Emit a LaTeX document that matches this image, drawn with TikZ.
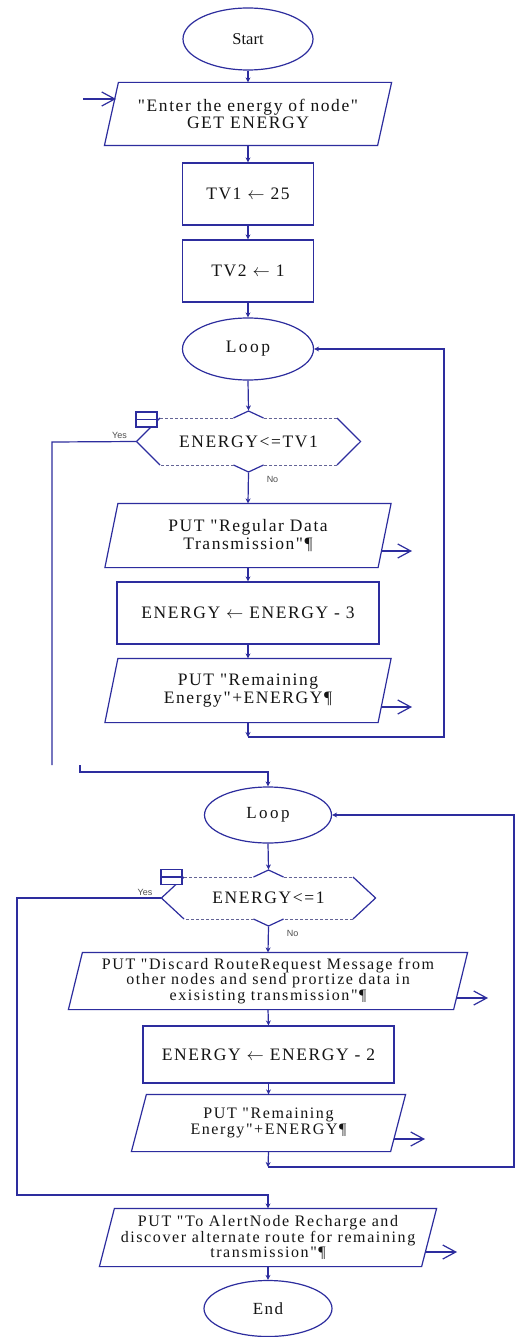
\documentclass[tikz,border=0pt]{standalone}
\usepackage{fontspec}
\setmainfont{Liberation Serif}
\newfontfamily\spaced[LetterSpace=9]{Liberation Serif}
\newfontfamily\spacedb[LetterSpace=10]{Liberation Serif}
\newfontfamily\wide[LetterSpace=14]{Liberation Serif}
\newfontfamily\lab{Liberation Sans}
\usetikzlibrary{shapes.geometric,arrows.meta,calc}
\definecolor{ln}{RGB}{45,45,158}
\definecolor{tx}{RGB}{20,20,20}
\definecolor{dsh}{RGB}{100,100,150}
\newcommand\mypara[2]{\draw[shp] ([xshift=#2pt]#1.north west) -- ([xshift=#2pt]#1.north east) -- ([xshift=-#2pt]#1.south east) -- ([xshift=-#2pt]#1.south west) -- cycle;}
\newcommand\myhex[4]{%
 \draw[shp] (#1.west) -- ($(#1.center)+(-#2+#4,-#3)$);
 \draw[dashedge] ($(#1.center)+(-#2+#4,-#3)$) -- ($(#1.center)+(-15,-#3)$);
 \draw[shp] ($(#1.center)+(-15,-#3)$) -- ($(#1.center)+(0,-#3-7)$) -- ($(#1.center)+(15,-#3)$);
 \draw[dashedge] ($(#1.center)+(15,-#3)$) -- ($(#1.center)+(#2-#4,-#3)$);
 \draw[shp] ($(#1.center)+(#2-#4,-#3)$) -- (#1.east) -- ($(#1.center)+(#2-#4,#3)$);
 \draw[dashedge] ($(#1.center)+(#2-#4,#3)$) -- ($(#1.center)+(15,#3)$);
 \draw[shp] ($(#1.center)+(15,#3)$) -- ($(#1.center)+(0,#3+7)$) -- ($(#1.center)+(-15,#3)$);
 \draw[dashedge] ($(#1.center)+(-15,#3)$) -- ($(#1.center)+(-#2+#4,#3)$);
 \draw[shp] ($(#1.center)+(-#2+#4,#3)$) -- (#1.west);}
\begin{document}
\begin{tikzpicture}[x=1pt,y=-1pt,
  line width=1.2pt,
  every node/.style={inner sep=0pt, text=tx},
  base/.style={font=\spaced\fontsize{17.5}{17.5}\selectfont, align=center},
  baseb/.style={font=\spacedb\fontsize{16}{15.5}\selectfont, align=center},
  term/.style={ellipse, draw=ln, line width=1.2pt},
  proc/.style={rectangle, draw=ln, line width=1.2pt},
  shp/.style={draw=ln, line width=1.2pt},
  flow/.style={draw=ln, -{Stealth[length=5pt,width=5pt]}},
  plainln/.style={draw=ln},
  outarr/.style={draw=ln, -{Straight Barb[length=13pt,width=14pt]}},
  lbl/.style={font=\lab\fontsize{9}{10}\selectfont, text=tx!75},
  dashedge/.style={draw=dsh, line width=0.7pt, dash pattern=on 3pt off 2pt},
  icon/.style={draw=ln, fill=white, line width=1.2pt, minimum width=21pt, minimum height=15pt},
]
\useasboundingbox[fill=white] (0,0) rectangle (517,1337);

% ---------- upper part ----------
\node[term, minimum width=130pt, minimum height=62pt, font=\fontsize{16.5}{17}\selectfont] (start) at (248,39) {Start};
\node[base, minimum width=272pt, minimum height=62pt] (p1) at (248,114) {"Enter the energy of node"\\GET ENERGY};
\mypara{p1}{7}
\node[proc, base, minimum width=131pt, minimum height=62pt] (tv1) at (248,194) {TV1 $\leftarrow$ 25};
\node[proc, base, minimum width=131pt, minimum height=62pt] (tv2) at (248,271) {TV2 $\leftarrow$ 1};
\node[term, minimum width=131pt, minimum height=62pt, font=\wide\fontsize{17.5}{17}\selectfont] (loop1) at (248,349) {Loop};
\node[base, minimum width=223pt, minimum height=61pt] (d1) at (248.5,441.5) {ENERGY<=TV1};
\myhex{d1}{111.5}{23.5}{23}
\node[icon] (ic1) at (146.5,419.5) {};
\draw[shp] (ic1.west) -- (ic1.east);
\node[lbl] (yes1) at (119.5,435) {Yes};
\node[lbl] (no1) at (272.5,479) {No};
\node[base, minimum width=272pt, minimum height=63pt] (p2) at (248,535.5) {PUT "Regular Data\\Transmission"¶};
\mypara{p2}{6.5}
\node[proc, base, minimum width=262pt, minimum height=62pt] (e3) at (248,613) {ENERGY $\leftarrow$ ENERGY - 3};
\node[base, minimum width=272pt, minimum height=63pt] (p3) at (248,690.5) {PUT "Remaining\\Energy"+ENERGY¶};
\mypara{p3}{6.5}

\coordinate (p1in) at (116,99);
\coordinate (p1src) at (83,99);
\coordinate (p2a) at (381,551);
\coordinate (p2o) at (412,551);
\coordinate (p3a) at (381,707);
\coordinate (p3o) at (412,707);
\coordinate (j1) at (248,737);
\coordinate (y1a) at (52,442);
\coordinate (y1b) at (52,765);
\coordinate (y1c) at (80,765);
\coordinate (y1d) at (80,772);

\draw[outarr] (p1src) -- (p1in);
\draw[flow] (start.south) -- (p1.north);
\draw[flow] (p1.south) -- (tv1.north);
\draw[flow] (tv1.south) -- (tv2.north);
\draw[flow] (tv2.south) -- (loop1.north);
\draw[flow] (loop1.south) -- (d1.north);
\draw[flow] (d1.south) -- (p2.north);
\draw[flow] (p2.south) -- (e3.north);
\draw[flow] (e3.south) -- (p3.north);
\draw[flow] (p3.south) -- (j1);
\draw[flow] (j1) -- ++(196,0) |- (loop1.east);
\draw[outarr] (p2a) -- (p2o);
\draw[outarr] (p3a) -- (p3o);
\draw[plainln] (d1.west) -- (y1a) -- (y1b);

% ---------- lower part ----------
\node[term, minimum width=127pt, minimum height=56pt, font=\wide\fontsize{17}{17}\selectfont] (loop2) at (268,815) {Loop};
\draw[flow] (y1c) -- (y1d) -| (loop2.north);
\node[base, minimum width=213pt, minimum height=56pt] (d2) at (268.5,898) {ENERGY<=1};
\myhex{d2}{106.5}{21}{22}
\node[icon] (ic2) at (171.5,877) {};
\draw[shp] (ic2.west) -- (ic2.east);
\node[lbl] (yes2) at (145,892.5) {Yes};
\node[lbl] (no2) at (292.5,933) {No};
\node[baseb, minimum width=384pt, minimum height=56pt] (p4) at (268,981) {PUT "Discard RouteRequest Message from\\other nodes and send prortize data in\\exisisting transmission"¶};
\mypara{p4}{7}
\node[proc, base, minimum width=251pt, minimum height=57pt] (e2) at (268.5,1054.5) {ENERGY $\leftarrow$ ENERGY - 2};
\node[baseb, minimum width=258pt, minimum height=56pt] (p5) at (268.5,1123) {PUT "Remaining\\Energy"+ENERGY¶};
\mypara{p5}{7.5}
\node[baseb, minimum width=321pt, minimum height=57pt] (p6) at (268,1237.5) {PUT "To AlertNode Recharge and\\discover alternate route for remaining\\transmission"¶};
\mypara{p6}{7.5}
\node[term, minimum width=128pt, minimum height=56pt, font=\spaced\fontsize{17}{17}\selectfont] (end) at (268,1308.5) {End};

\coordinate (p4a) at (456,998);
\coordinate (p4o) at (488,998);
\coordinate (p5a) at (394,1139);
\coordinate (p5o) at (425,1139);
\coordinate (p6a) at (425,1252);
\coordinate (p6o) at (457,1252);
\coordinate (j2) at (268,1167);
\coordinate (y2a) at (17,898);
\coordinate (y2b) at (17,1195);

\draw[flow] (loop2.south) -- (d2.north);
\draw[flow] (d2.south) -- (p4.north);
\draw[flow] (p4.south) -- (e2.north);
\draw[flow] (e2.south) -- (p5.north);
\draw[flow] (p5.south) -- (j2);
\draw[flow] (j2) -- ++(246,0) |- (loop2.east);
\draw[flow] (d2.west) -- (y2a) -- (y2b) -| (p6.north);
\draw[flow] (p6.south) -- (end.north);
\draw[outarr] (p4a) -- (p4o);
\draw[outarr] (p5a) -- (p5o);
\draw[outarr] (p6a) -- (p6o);
\end{tikzpicture}
\end{document}
